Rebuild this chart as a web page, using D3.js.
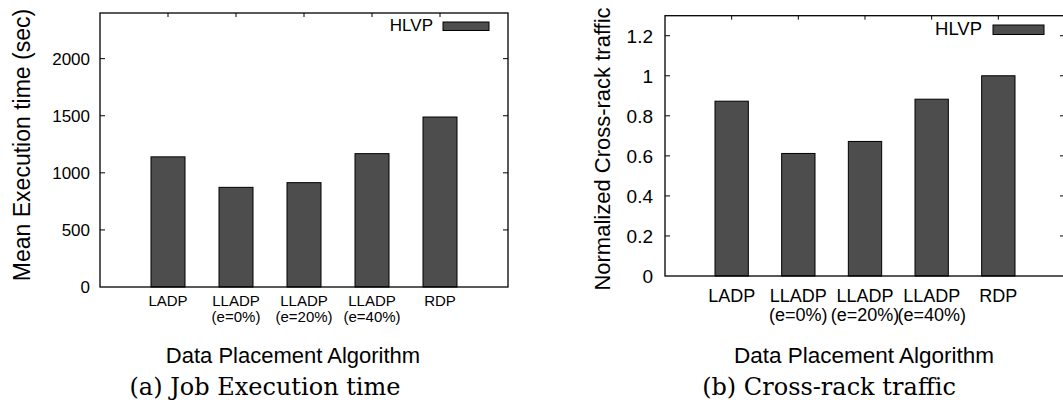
<!DOCTYPE html>
<html>
<head>
<meta charset="utf-8">
<script src="https://cdn.jsdelivr.net/npm/d3@7"></script>
<style>
  html, body { margin: 0; padding: 0; background: #fff; }
  svg { display: block; }
  text { fill: #000; }
</style>
</head>
<body>
<svg id="chart" width="1063" height="419"></svg>
<script>
// ---- data ----
const categories = ["LADP", "LLADP (e=0%)", "LLADP (e=20%)", "LLADP (e=40%)", "RDP"];
const categoryLine1 = ["LADP", "LLADP", "LLADP", "LLADP", "RDP"];
const categoryLine2 = ["", "(e=0%)", "(e=20%)", "(e=40%)", ""];
const seriesName = "HLVP";
const execTimeValues = [1140, 873, 914, 1168, 1489];
const crossRackValues = [0.873, 0.612, 0.672, 0.883, 1.0];
const execTimeTicks = [0, 500, 1000, 1500, 2000];
const execTimeTickLabels = ["0", "500", "1000", "1500", "2000"];
const crossRackTicks = [0, 0.2, 0.4, 0.6, 0.8, 1, 1.2];
const crossRackTickLabels = ["0", "0.2", "0.4", "0.6", "0.8", "1", "1.2"];
const yTitleA = "Mean Execution time (sec)";
const yTitleB = "Normalized Cross-rack traffic";
const xTitle = "Data Placement Algorithm";
const captionA = "(a) Job Execution time";
const captionB = "(b) Cross-rack traffic";

const svg = d3.select("#chart");
const SANS = "'Liberation Sans', Arial, Helvetica, sans-serif";
const SERIF = "'DejaVu Serif', 'Liberation Serif', serif";
const BAR_FILL = "#4d4d4d";

function panel(cfg) {
  const g = svg.append("g");
  const x = d3.scaleBand().domain(categories)
    .range([cfg.x0, cfg.x1]).paddingInner(0.5).paddingOuter(0.75);
  const y = d3.scaleLinear().domain([0, cfg.yMax]).range([cfg.yBot, cfg.yTop]);

  // bars
  g.selectAll("rect.bar").data(cfg.values).join("rect")
    .attr("class", "bar")
    .attr("x", (d, i) => x(categories[i]))
    .attr("width", x.bandwidth())
    .attr("y", d => y(d))
    .attr("height", d => y(0) - y(d))
    .attr("fill", BAR_FILL)
    .attr("stroke", "#000")
    .attr("stroke-width", 1);

  // frame
  g.append("rect")
    .attr("x", cfg.x0).attr("y", cfg.yTop)
    .attr("width", cfg.x1 - cfg.x0).attr("height", cfg.yBot - cfg.yTop)
    .attr("fill", "none").attr("stroke", "#000").attr("stroke-width", 1.3);

  // y ticks (left and right, inward)
  const tl = 5;
  cfg.ticks.forEach((t, i) => {
    const yy = y(t);
    if (t !== 0) {
      g.append("line").attr("x1", cfg.x0).attr("x2", cfg.x0 + tl)
        .attr("y1", yy).attr("y2", yy).attr("stroke", "#000").attr("stroke-width", 1);
      g.append("line").attr("x1", cfg.x1).attr("x2", cfg.x1 - tl)
        .attr("y1", yy).attr("y2", yy).attr("stroke", "#000").attr("stroke-width", 1);
    }
    g.append("text")
      .attr("x", cfg.yLabelX).attr("y", yy).attr("dy", "0.36em")
      .attr("text-anchor", "end")
      .attr("font-family", SANS).attr("font-size", cfg.yTickFont)
      .text(cfg.tickLabels[i]);
  });

  // top mirror ticks at categories
  categories.forEach(c => {
    const xx = x(c) + x.bandwidth() / 2;
    g.append("line").attr("x1", xx).attr("x2", xx)
      .attr("y1", cfg.yTop).attr("y2", cfg.yTop + 4)
      .attr("stroke", "#000").attr("stroke-width", 1);
  });

  // x labels
  categories.forEach((c, i) => {
    const xx = x(c) + x.bandwidth() / 2;
    g.append("text").attr("x", xx).attr("y", cfg.xLab1Y)
      .attr("text-anchor", "middle").attr("font-family", SANS)
      .attr("font-size", cfg.xTickFont).text(categoryLine1[i]);
    if (categoryLine2[i]) {
      g.append("text").attr("x", xx).attr("y", cfg.xLab2Y)
        .attr("text-anchor", "middle").attr("font-family", SANS)
        .attr("font-size", cfg.xTickFont).text(categoryLine2[i]);
    }
  });

  // legend
  g.append("text").attr("x", cfg.legTextX).attr("y", cfg.legTextY)
    .attr("text-anchor", "end").attr("font-family", SANS)
    .attr("font-size", cfg.legFont).text(seriesName);
  g.append("rect").attr("x", cfg.legSw[0]).attr("y", cfg.legSw[1])
    .attr("width", cfg.legSw[2]).attr("height", cfg.legSw[3])
    .attr("fill", BAR_FILL).attr("stroke", "#000").attr("stroke-width", 1);

  // y title
  g.append("text")
    .attr("transform", `translate(${cfg.yTitleX},${cfg.yTitleY}) rotate(-90)`)
    .attr("text-anchor", "middle").attr("font-family", SANS)
    .attr("font-size", cfg.yTitleFont).text(cfg.yTitle);

  // x title
  g.append("text").attr("x", cfg.xTitleX).attr("y", cfg.xTitleY)
    .attr("text-anchor", "middle").attr("font-family", SANS)
    .attr("font-size", cfg.xTitleFont).text(xTitle);

  // caption
  g.append("text").attr("x", cfg.capX).attr("y", cfg.capY)
    .attr("text-anchor", "middle").attr("font-family", SERIF)
    .attr("font-size", cfg.capFont).text(cfg.caption);
}

panel({
  x0: 100, x1: 508, yTop: 13, yBot: 287, yMax: 2400,
  values: execTimeValues, ticks: execTimeTicks, tickLabels: execTimeTickLabels,
  yLabelX: 90, yTickFont: 17,
  xLab1Y: 306, xLab2Y: 322, xTickFont: 15,
  legTextX: 433, legTextY: 31, legFont: 17, legSw: [443, 22, 46, 8.5],
  yTitle: yTitleA, yTitleX: 30, yTitleY: 145, yTitleFont: 23,
  xTitleX: 293, xTitleY: 363, xTitleFont: 22,
  caption: captionA, capX: 265, capY: 395, capFont: 24
});

panel({
  x0: 665, x1: 1065, yTop: 15.7, yBot: 276, yMax: 1.3,
  values: crossRackValues, ticks: crossRackTicks, tickLabels: crossRackTickLabels,
  yLabelX: 653, yTickFont: 19,
  xLab1Y: 302, xLab2Y: 321, xTickFont: 18,
  legTextX: 982, legTextY: 35, legFont: 18.5, legSw: [993, 25, 51, 9.5],
  yTitle: yTitleB, yTitleX: 610, yTitleY: 149, yTitleFont: 22,
  xTitleX: 864, xTitleY: 363, xTitleFont: 22.5,
  caption: captionB, capX: 829, capY: 395, capFont: 24
});
</script>
</body>
</html>
